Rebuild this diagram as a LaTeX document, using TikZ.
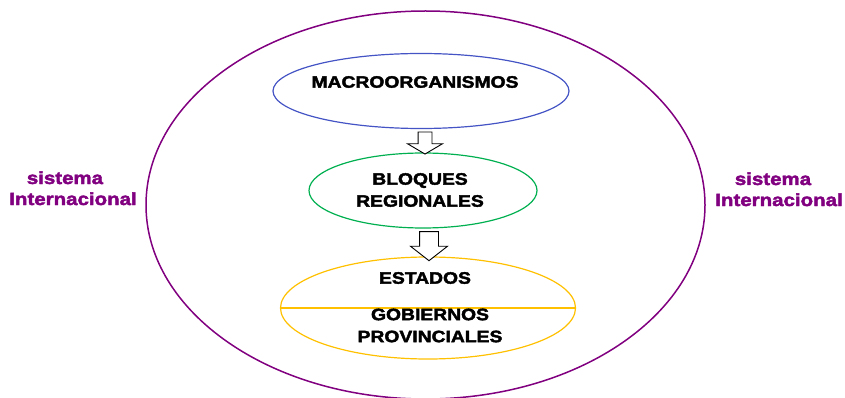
\documentclass[tikz,border=0pt]{standalone}
\usepackage{fontspec}
\setmainfont{Liberation Sans}[FakeStretch=1.17,BoldFeatures={FakeBold=2.4}]
\usetikzlibrary{shapes,shapes.arrows}
\pgfdeclarelayer{edgelayer}
\pgfdeclarelayer{nodelayer}
\pgfsetlayers{edgelayer,nodelayer,main}
\definecolor{sysviolet}{RGB}{128,0,128}
\definecolor{macroblue}{RGB}{68,84,196}
\definecolor{blocgreen}{RGB}{0,176,80}
\definecolor{stateyellow}{RGB}{255,192,0}
\tikzset{font=\bfseries\fontsize{16.5}{22}\selectfont}
\tikzstyle{none}=[inner sep=0pt]
\tikzstyle{ring}=[ellipse,draw,inner sep=0pt,line width=1.2pt]
\tikzstyle{label}=[inner sep=0pt,align=center,text=black]
\tikzstyle{sislabel}=[inner sep=0pt,anchor=base,text=sysviolet,font=\bfseries\fontsize{17.5}{21}\selectfont]
\tikzstyle{downarrow}=[single arrow,draw=black,fill=white,line width=0.9pt,inner xsep=0pt,rotate=-90,single arrow head indent=0pt]

\begin{document}
\begin{tikzpicture}[x=1pt,y=-1pt]
	\useasboundingbox (0,0) rectangle (845,398);
	\begin{pgfonlayer}{edgelayer}
		\node [style=ring, draw=sysviolet, line width=1.5pt, minimum width=559, minimum height=388] (0) at (425.5, 205) {};
	\end{pgfonlayer}
	\begin{pgfonlayer}{nodelayer}
		\node [style=ring, draw=macroblue, minimum width=296, minimum height=75] (1) at (421, 91) {};
		\node [style=ring, draw=blocgreen, minimum width=228, minimum height=75] (2) at (423, 190.5) {};
		\node [style=ring, draw=stateyellow, minimum width=295, minimum height=102] (3) at (428, 308) {};
		\node [style=downarrow, inner ysep=6.5, minimum height=22, minimum width=34, single arrow head extend=10.5, single arrow tip angle=119] (4) at (425, 141) {};
		\node [style=downarrow, inner ysep=9, minimum height=29, minimum width=36, single arrow head extend=9, single arrow tip angle=104] (5) at (429, 242.5) {};
		\node [style=label] (6) at (415, 82) {MACROORGANISMOS};
		\node [style=label] (7) at (420, 190) {BLOQUES\\REGIONALES};
		\node [style=label] (8) at (425, 278) {ESTADOS};
		\node [style=label] (9) at (430, 325.5) {GOBIERNOS\\PROVINCIALES};
		\node [style=sislabel] (10) at (65, 184) {sistema};
		\node [style=sislabel] (11) at (73, 205) {Internacional};
		\node [style=sislabel] (12) at (773, 185) {sistema};
		\node [style=sislabel] (13) at (779, 206) {Internacional};
	\end{pgfonlayer}
	\begin{pgfonlayer}{edgelayer}
		\draw[stateyellow, line width=1.2pt] (3.west) to (3.east);
	\end{pgfonlayer}
\end{tikzpicture}
\end{document}
